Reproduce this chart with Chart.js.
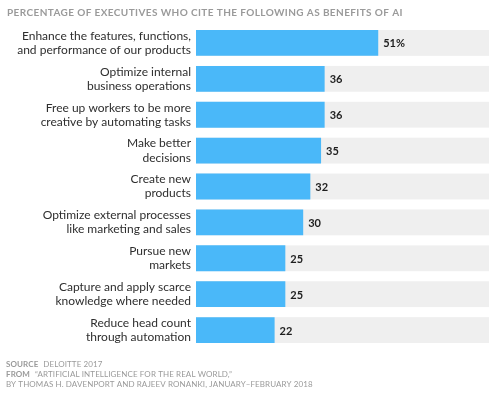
<!DOCTYPE html>
<html>
<head>
<meta charset="utf-8">
<script src="https://cdn.jsdelivr.net/npm/chart.js@4.4.1/dist/chart.umd.min.js"></script>
<style>
  html, body { margin: 0; padding: 0; background: #fff; }
  #wrap { width: 500px; height: 396px; }
</style>
</head>
<body>
<div id="wrap"><canvas id="bar-chart"></canvas></div>
<script>
// benefits of AI, share of executives (%)
const benefits = [
  ['Enhance the features, functions,', 'and performance of our products'],
  ['Optimize internal', 'business operations'],
  ['Free up workers to be more', 'creative by automating tasks'],
  ['Make better', 'decisions'],
  ['Create new', 'products'],
  ['Optimize external processes', 'like marketing and sales'],
  ['Pursue new', 'markets'],
  ['Capture and apply scarce', 'knowledge where needed'],
  ['Reduce head count', 'through automation']
];
const shares = [51, 36, 36, 35, 32, 30, 25, 25, 22];
const axisMax = 82;

const titleText = 'PERCENTAGE OF EXECUTIVES WHO CITE THE FOLLOWING AS BENEFITS OF AI';
const sourceLines = [
  ['SOURCE', 'DELOITTE 2017'],
  ['FROM', '\u201CARTIFICIAL INTELLIGENCE FOR THE REAL WORLD,\u201D'],
  ['', 'BY THOMAS H. DAVENPORT AND RAJEEV RONANKI, JANUARY\u2013FEBRUARY 2018']
];

const FONT = 'Lato, "Open Sans", sans-serif';

// gray track behind every bar
const trackPlugin = {
  id: 'track',
  beforeDatasetsDraw(chart) {
    const ctx = chart.ctx;
    const area = chart.chartArea;
    ctx.save();
    ctx.fillStyle = '#efefef';
    chart.getDatasetMeta(0).data.forEach((bar) => {
      ctx.fillRect(area.left, bar.y - bar.height / 2, area.right - area.left, bar.height);
    });
    ctx.restore();
  }
};

// value at the end of each bar, title and source notes
const textPlugin = {
  id: 'texts',
  afterDatasetsDraw(chart) {
    const ctx = chart.ctx;
    ctx.save();
    ctx.font = 'bold 11px ' + FONT;
    ctx.fillStyle = '#1e1e1e';
    ctx.textBaseline = 'middle';
    ctx.textAlign = 'left';
    chart.getDatasetMeta(0).data.forEach((bar, i) => {
      let txt = String(shares[i]);
      if (i === 0) txt += '%';
      ctx.fillText(txt, bar.x + 5, bar.y + 1);
    });
    ctx.restore();
  },
  afterDraw(chart) {
    const ctx = chart.ctx;
    ctx.save();
    ctx.textBaseline = 'middle';
    ctx.textAlign = 'left';
    ctx.fillStyle = '#9a9a9a';
    ctx.font = 'bold 10px ' + FONT;
    ctx.letterSpacing = '0.4px';
    ctx.fillText(titleText, 7, 13);
    ctx.letterSpacing = '0.1px';
    sourceLines.forEach((line, i) => {
      let x = 6;
      const y = 364 + i * 10;
      if (line[0]) {
        ctx.font = 'bold 8px ' + FONT;
        ctx.fillText(line[0], x, y);
        x += ctx.measureText(line[0]).width + 5;
      }
      ctx.font = '8px ' + FONT;
      ctx.fillText(line[1], x, y);
    });
    ctx.restore();
  }
};

new Chart(document.getElementById('bar-chart'), {
  type: 'bar',
  data: {
    labels: benefits,
    datasets: [{
      label: 'Share of executives',
      data: shares,
      backgroundColor: '#4ab8f9',
      borderWidth: 0,
      barPercentage: 0.72,
      categoryPercentage: 1
    }]
  },
  options: {
    indexAxis: 'y',
    responsive: true,
    maintainAspectRatio: false,
    animation: false,
    layout: { padding: { left: 0, right: 11, top: 25, bottom: 48 } },
    plugins: {
      legend: { display: false },
      tooltip: { enabled: false }
    },
    scales: {
      x: {
        display: false,
        min: 0,
        max: axisMax
      },
      y: {
        grid: { display: false, drawTicks: false },
        border: { display: false },
        afterFit: (scale) => { scale.width = 196; },
        ticks: {
          padding: 5,
          color: '#2e2e2e',
          font: { family: FONT, size: 12, lineHeight: 1.17 }
        }
      }
    }
  },
  plugins: [trackPlugin, textPlugin]
});
</script>
</body>
</html>
